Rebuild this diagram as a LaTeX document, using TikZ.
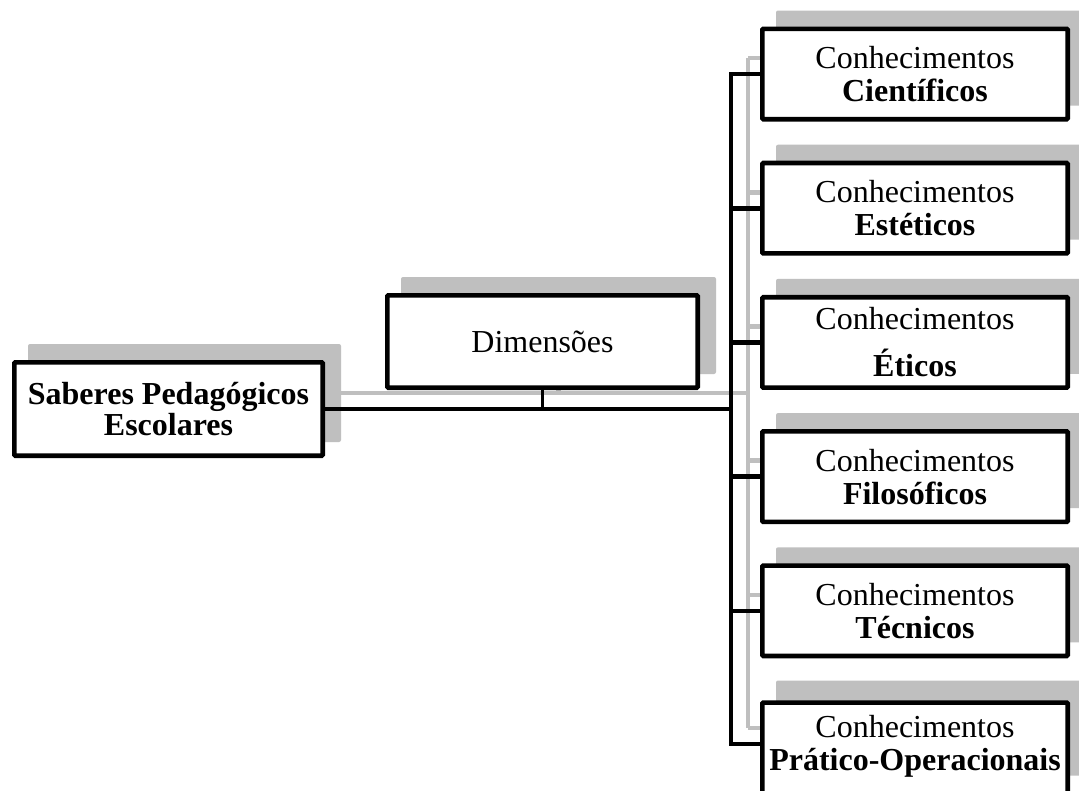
\documentclass[tikz,border=0pt]{standalone}
\usepackage{fontspec}
\setmainfont{Liberation Serif}
\definecolor{shadowgray}{RGB}{191,191,191}
\tikzset{
  box/.style={draw=black, line width=4.6pt, fill=white, inner sep=0pt, align=center, rounded corners=1pt},
  shadowbox/.style={fill=shadowgray, inner sep=0pt, rounded corners=2pt},
  blackline/.style={draw=black, line width=4.6pt},
  grayline/.style={draw=shadowgray, line width=4.6pt},
  rtext/.style={font=\fontsize{32}{33}\selectfont},
}
\begin{document}
\begin{tikzpicture}[x=1pt, y=-1pt]
\clip (0,0) rectangle (1079,790);
\fill[white] (0,0) rectangle (1079,790);
% shadows
\node[shadowbox, minimum width=313pt, minimum height=98pt] (shL) at (184.5,393) {};
\node[shadowbox, minimum width=315pt, minimum height=97pt] (shD) at (558.5,325.5) {};
\foreach \i/\y in {1/74,2/208.2,3/342.4,4/476.6,5/610.8,6/744}{
  \node[shadowbox, minimum width=310pt, minimum height=95pt] (sh\i) at (931,\y-16) {};
}
% gray connectors
\coordinate (gv) at (748,0);
\draw[grayline] (shL.east) -- (shL.east -| gv);
\draw[grayline] (sh1.west -| gv) -- (sh6.west -| gv);
\foreach \i in {1,...,6}{
  \draw[grayline] (sh\i.west -| gv) -- (sh\i.west);
}
\draw[grayline] (shD.south) -- (shD.south |- shL.east);
% boxes
\node[box, minimum width=308.4pt, minimum height=93.4pt, font=\bfseries\fontsize{32}{29}\selectfont] (L) at (168.5,409) {Saberes Pedagógicos\\Escolares};
\node[box, minimum width=310.4pt, minimum height=92.4pt, font=\fontsize{32}{33}\selectfont] (D) at (542.5,341.5) {Dimensões};
\node[box, rtext, minimum width=305.4pt, minimum height=90.4pt] (r1) at (915,74) {Conhecimentos\\\textbf{Científicos}};
\node[box, rtext, minimum width=305.4pt, minimum height=90.4pt] (r2) at (915,208.2) {Conhecimentos\\\textbf{Estéticos}};
\node[box, rtext, minimum width=305.4pt, minimum height=90.4pt] (r3) at (915,342.4) {Conhecimentos\\[14pt]\textbf{Éticos}};
\node[box, rtext, minimum width=305.4pt, minimum height=90.4pt] (r4) at (915,476.6) {Conhecimentos\\\textbf{Filosóficos}};
\node[box, rtext, minimum width=305.4pt, minimum height=90.4pt] (r5) at (915,610.8) {Conhecimentos\\\textbf{Técnicos}};
\node[box, minimum width=305.4pt, minimum height=100pt, anchor=north] (r6) at (915,700.3) {};
\node[rtext, align=center, inner sep=0pt] (t6) at (915,746) {Conhecimentos\\\textbf{Prático-Operacionais}};
% black connectors
\coordinate (bv) at (731,0);
\coordinate (b6) at (731,744);
\draw[blackline] (L.east) -- (L.east -| bv);
\draw[blackline, line width=3.5pt] (D.south) -- (D.south |- L.east);
\draw[blackline, line cap=rect] (r1.west -| bv) -- (b6);
\foreach \i in {1,...,5}{
  \draw[blackline] (r\i.west -| bv) -- (r\i.west);
}
\draw[blackline] (b6) -- (b6 -| r6.west);
\end{tikzpicture}
\end{document}
